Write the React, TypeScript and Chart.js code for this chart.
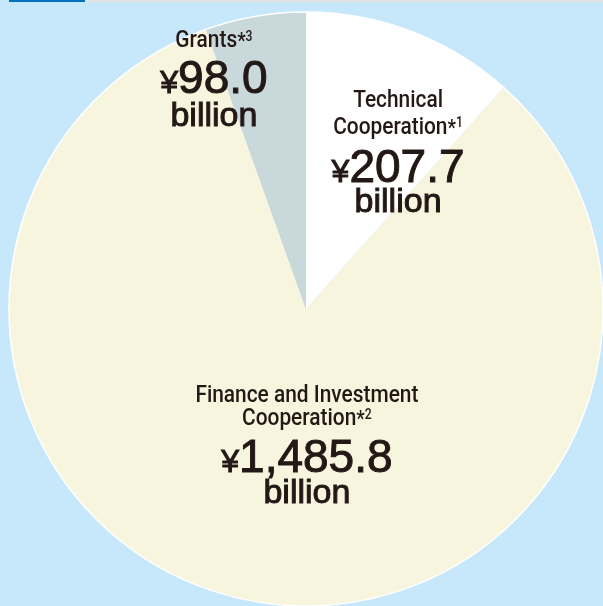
import React, { useEffect, useRef } from "react";
import { Chart, registerables } from "chart.js";

Chart.register(...registerables);

// ---- data ----
const categories = ["Technical Cooperation", "Finance and Investment Cooperation", "Grants"];
const values = [207.7, 1485.8, 98.0];
const noteMarks = ["1", "2", "3"];
const titleLines = [
  ["Technical", "Cooperation"],
  ["Finance and Investment", "Cooperation"],
  ["Grants"],
];
const unitLabel = "billion";
const currency = "¥";

// ---- styles / layout ----
const sliceColors = ["#FFFFFF", "#F8F5DF", "#C8D8DB"];
const bgColor = "#C7E7FA";
const textColor = "#231815";
// anchor of the value line baseline, as fraction of outer radius from pie centre
const labelAnchors = [
  [0.31, -0.428],
  [0.003, 0.549],
  [-0.31, -0.727],
];
// baseline offsets (px) relative to value baseline
const titleOffsets = [
  [-75, -48],
  [-70, -47],
  [-46],
];
const unitOffsets = [30, 31, 33];

const labelFont = 'Roboto, "Liberation Sans", Arial, sans-serif';
const labelScale = 0.87;
const valueFont = '"Liberation Sans", Arial, Helvetica, sans-serif';

const bgPlugin = {
  id: "bgPlugin",
  beforeDraw(chart: any) {
    const ctx = chart.ctx;
    ctx.save();
    ctx.fillStyle = bgColor;
    ctx.fillRect(0, 0, chart.width, chart.height);
    ctx.fillStyle = "#E3E3E3";
    ctx.fillRect(85, 0, chart.width - 85, 2);
    ctx.fillStyle = "#0072BC";
    ctx.fillRect(9, 0, 76, 2);
    ctx.restore();
  },
};

function drawCondensed(ctx: any, text: string, x: number, y: number) {
  ctx.save();
  ctx.translate(x, y);
  ctx.scale(labelScale, 1);
  ctx.fillText(text, 0, 0);
  ctx.restore();
}

const labelPlugin = {
  id: "labelPlugin",
  afterDatasetsDraw(chart: any) {
    const ctx = chart.ctx;
    const meta = chart.getDatasetMeta(0);
    const first = meta.data[0];
    if (!first) return;
    const cx = first.x;
    const cy = first.y;
    const R = first.outerRadius;
    ctx.save();
    // white rim
    ctx.beginPath();
    ctx.arc(cx, cy, R, 0, Math.PI * 2);
    ctx.strokeStyle = "#FFFFFF";
    ctx.lineWidth = 1.5;
    ctx.stroke();

    ctx.fillStyle = textColor;
    ctx.strokeStyle = textColor;
    ctx.textBaseline = "alphabetic";
    ctx.textAlign = "left";

    meta.data.forEach((arc: any, i: number) => {
      const ax = cx + labelAnchors[i][0] * R;
      const ay = cy + labelAnchors[i][1] * R;
      const lines = titleLines[i];
      lines.forEach((line: string, j: number) => {
        const by = ay + titleOffsets[i][j];
        const isLast = j === lines.length - 1;
        const mainFont = `500 24px ${labelFont}`;
        const starFont = `500 22px ${labelFont}`;
        const supFont = `500 14px ${labelFont}`;
        ctx.font = mainFont;
        const w1 = ctx.measureText(line).width * labelScale;
        let w2 = 0;
        let w3 = 0;
        if (isLast) {
          ctx.font = starFont;
          w2 = ctx.measureText("*").width * labelScale;
          ctx.font = supFont;
          w3 = ctx.measureText(noteMarks[i]).width * labelScale;
        }
        let x0 = ax - (w1 + w2 + w3) / 2;
        ctx.font = mainFont;
        drawCondensed(ctx, line, x0, by);
        if (isLast) {
          x0 += w1;
          ctx.font = starFont;
          drawCondensed(ctx, "*", x0, by + 1);
          x0 += w2;
          ctx.font = supFont;
          drawCondensed(ctx, noteMarks[i], x0, by - 6.5);
        }
      });
      // value line
      const num = values[i].toLocaleString("en-US", {
        minimumFractionDigits: 1,
        maximumFractionDigits: 1,
      });
      const curFont = `32px ${valueFont}`;
      const numFont = `46px ${valueFont}`;
      ctx.font = curFont;
      const cw = ctx.measureText(currency).width;
      ctx.font = numFont;
      const nw = ctx.measureText(num).width;
      let vx = ax - (cw + nw) / 2;
      ctx.lineWidth = 1;
      ctx.font = curFont;
      ctx.fillText(currency, vx, ay);
      ctx.strokeText(currency, vx, ay);
      vx += cw;
      ctx.font = numFont;
      ctx.fillText(num, vx, ay);
      ctx.strokeText(num, vx, ay);
      // unit line
      ctx.font = `34px ${valueFont}`;
      ctx.textAlign = "center";
      ctx.fillText(unitLabel, ax, ay + unitOffsets[i]);
      ctx.strokeText(unitLabel, ax, ay + unitOffsets[i]);
      ctx.textAlign = "left";
    });
    ctx.restore();
  },
};

export default function App() {
  const canvasRef = useRef<HTMLCanvasElement | null>(null);

  useEffect(() => {
    const canvas = canvasRef.current;
    if (!canvas) return;
    const chart = new Chart(canvas, {
      type: "pie",
      data: {
        labels: categories,
        datasets: [
          {
            data: values,
            backgroundColor: sliceColors,
            borderWidth: 0,
          },
        ],
      },
      options: {
        animation: false,
        responsive: false,
        layout: { padding: { left: 9, top: 12, right: 0, bottom: 0 } },
        plugins: {
          legend: { display: false },
          tooltip: { enabled: false },
          title: { display: false },
        },
      },
      plugins: [bgPlugin, labelPlugin],
    });
    return () => chart.destroy();
  }, []);

  return (
    <div style={{ position: "absolute", left: 0, top: 0, width: 603, height: 606 }}>
      <canvas ref={canvasRef} width={603} height={606} style={{ display: "block" }} />
    </div>
  );
}
